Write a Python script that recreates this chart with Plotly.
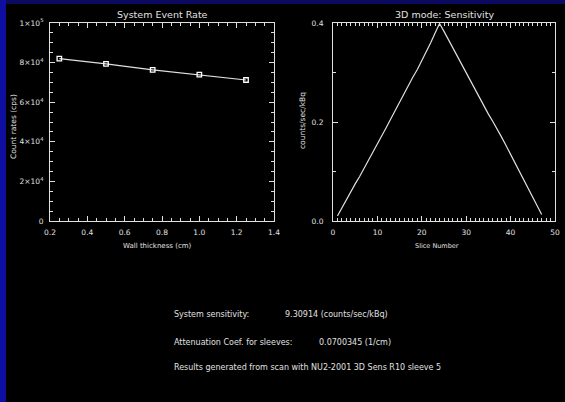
import plotly.graph_objects as go

# Left panel data
wall_thickness = [0.25, 0.5, 0.75, 1.0, 1.25]
count_rates = [82000, 79400, 76300, 73900, 71200]

# Right panel data
slice_number = list(range(1, 48))
sensitivity = [0.010, 0.027, 0.044, 0.061, 0.075, 0.090, 0.106, 0.122, 0.139, 0.155,
               0.172, 0.189, 0.206, 0.223, 0.240, 0.258, 0.276, 0.291, 0.306, 0.323,
               0.341, 0.360, 0.380, 0.399, 0.383, 0.366, 0.349, 0.332, 0.315, 0.298,
               0.282, 0.265, 0.248, 0.232, 0.216, 0.201, 0.186, 0.169, 0.152, 0.135,
               0.118, 0.101, 0.084, 0.067, 0.050, 0.032, 0.013]

left_yticks = [0, 20000, 40000, 60000, 80000, 100000]
left_yticktext = ["0", "2×10<sup>4</sup>", "4×10<sup>4</sup>", "6×10<sup>4</sup>",
                  "8×10<sup>4</sup>", "1×10<sup>5</sup>"]

info_labels = ["System sensitivity:", "Attenuation Coef. for sleeves:"]
info_values = ["9.30914 (counts/sec/kBq)", "0.0700345 (1/cm)"]
footer = "Results generated from scan with NU2-2001 3D Sens R10 sleeve 5"

FG = "#e0e0e0"
FONT = "DejaVu Sans"
W, H = 565, 402

fig = go.Figure()
fig.add_trace(go.Scatter(x=wall_thickness, y=count_rates, mode="lines+markers",
                         line=dict(color=FG, width=1.2),
                         marker=dict(symbol="square-open", size=4.5, color="white",
                                     line=dict(width=1.3, color="white")),
                         xaxis="x", yaxis="y", showlegend=False))
fig.add_trace(go.Scatter(x=slice_number, y=sensitivity, mode="lines",
                         line=dict(color=FG, width=1.2),
                         xaxis="x2", yaxis="y2", showlegend=False, cliponaxis=False))

common = dict(showline=True, linecolor=FG, linewidth=1, mirror="allticks",
              ticks="inside", ticklen=5, tickcolor=FG, tickwidth=1,
              showgrid=False, zeroline=False, automargin=False,
              tickfont=dict(family=FONT, size=7.5, color=FG))

top = 1 - 23 / H
bot = 1 - 221 / H

fig.update_layout(
    width=W, height=H, margin=dict(l=0, r=0, t=0, b=0, pad=0, autoexpand=False),
    paper_bgcolor="#0a0a60", plot_bgcolor="black",
    xaxis=dict(domain=[50 / W, 274 / W], range=[0.2, 1.4], dtick=0.2, tick0=0.2,
               tickformat=".1f", anchor="y", ticklabelstandoff=4,
               minor=dict(dtick=0.05, ticklen=3, tickcolor=FG, ticks="inside"),
               **common),
    yaxis=dict(domain=[bot, top], range=[0, 100000], tickvals=left_yticks,
               ticktext=left_yticktext, anchor="x", ticklabelstandoff=4,
               minor=dict(dtick=5000, ticklen=3, tickcolor=FG, ticks="inside"),
               **common),
    xaxis2=dict(domain=[333 / W, 555 / W], range=[0, 50], dtick=10, anchor="y2",
                ticklabelstandoff=4,
                minor=dict(dtick=1, ticklen=3, tickcolor=FG, ticks="inside"),
                **common),
    yaxis2=dict(domain=[bot, top], range=[0, 0.4], dtick=0.2, tickformat=".1f",
                anchor="x2", ticklabelstandoff=7,
                minor=dict(dtick=0.1, ticklen=3, tickcolor=FG, ticks="inside"),
                **common),
)

# background: left blue strip, black main area
fig.add_shape(type="rect", xref="paper", yref="paper", x0=0, x1=6 / W, y0=0, y1=1,
              fillcolor="#0e0ea0", line_width=0, layer="below")
fig.add_shape(type="rect", xref="paper", yref="paper", x0=6 / W, x1=1, y0=0,
              y1=1 - 4 / H, fillcolor="black", line_width=0, layer="below")


def note(text, x, y, size, xanchor="left", angle=0):
    fig.add_annotation(text=text, x=x / W, y=1 - y / H, xref="paper", yref="paper",
                       xanchor=xanchor, yanchor="middle", showarrow=False,
                       textangle=angle,
                       font=dict(family=FONT, size=size, color=FG))


# panel titles
note("System Event Rate", 162, 15, 9.5, "center")
note("3D mode: Sensitivity", 444, 15, 9.5, "center")

# axis titles
note("Wall thickness (cm)", 157, 246, 7, "center")
note("Count rates (cps)", 13, 127, 7.5, "center", -90)
note("Slice Number", 437, 246, 6.5, "center")
note("counts/sec/kBq", 302, 121, 7.5, "center", -90)

# info text
note(info_labels[0], 172, 314, 8)
note(info_values[0], 283, 314, 8)
note(info_labels[1], 172, 342, 8)
note(info_values[1], 317, 342, 8)
note(footer, 172, 367, 8)

fig.write_html("out.html", config={"displayModeBar": False},
               post_script="document.body.style.margin='0';")
